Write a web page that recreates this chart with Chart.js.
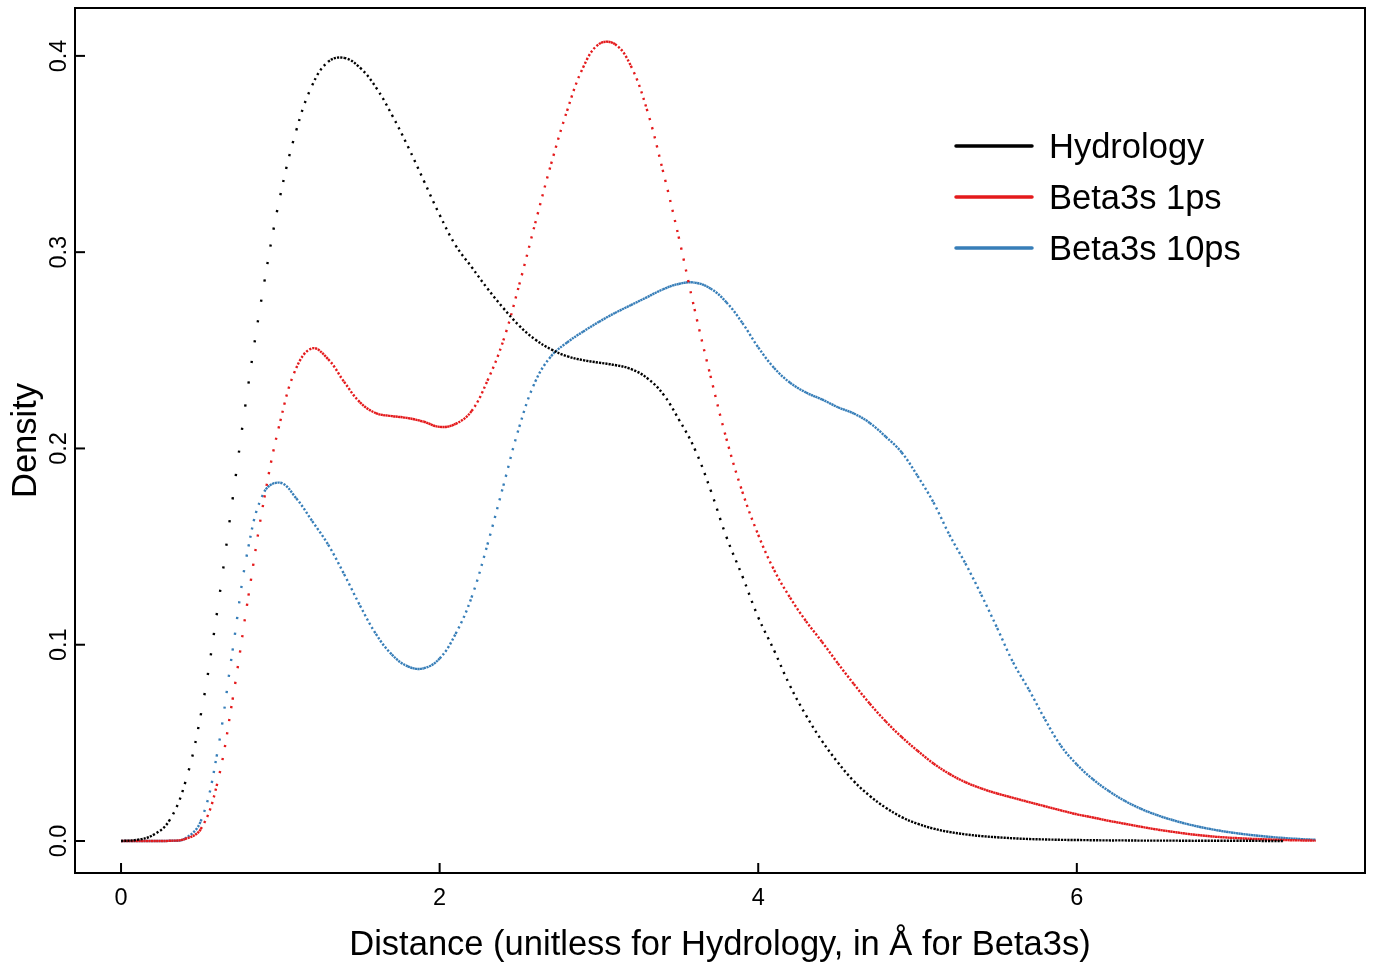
<!DOCTYPE html>
<html>
<head>
<meta charset="utf-8">
<script src="https://cdn.jsdelivr.net/npm/chart.js@4.4.0/dist/chart.umd.min.js"></script>
<style>
  html, body { margin: 0; padding: 0; background: #fff; }
  #wrap { width: 1373px; height: 963px; }
</style>
</head>
<body>
<div id="wrap"><canvas id="densityChart" width="1373" height="963"></canvas></div>
<script>
// kernel density estimates, x step 0.1
const distance = [
  0.0, 0.1, 0.2, 0.3, 0.4, 0.5, 0.6, 0.7, 0.8, 0.9,
  1.0, 1.1, 1.2, 1.3, 1.4, 1.5, 1.6, 1.7, 1.8, 1.9,
  2.0, 2.1, 2.2, 2.3, 2.4, 2.5, 2.6, 2.7, 2.8, 2.9,
  3.0, 3.1, 3.2, 3.3, 3.4, 3.5, 3.6, 3.7, 3.8, 3.9,
  4.0, 4.1, 4.2, 4.3, 4.4, 4.5, 4.6, 4.7, 4.8, 4.9,
  5.0, 5.1, 5.2, 5.3, 5.4, 5.5, 5.6, 5.7, 5.8, 5.9,
  6.0, 6.1, 6.2, 6.3, 6.4, 6.5, 6.6, 6.7, 6.8, 6.9,
  7.0, 7.1, 7.2, 7.3, 7.4, 7.5
];

// Hydrology stops at 7.3
const hydrology = [
  0.0000, 0.0006, 0.0030, 0.0100, 0.0290, 0.0640, 0.1150, 0.1740, 0.2330, 0.2850,
  0.3290, 0.3620, 0.3850, 0.3970, 0.3990, 0.3940, 0.3840, 0.3700, 0.3540, 0.3365,
  0.3190, 0.3035, 0.2925, 0.2815, 0.2715, 0.2625, 0.2555, 0.2505, 0.2470, 0.2450,
  0.2437, 0.2425, 0.2405, 0.2360, 0.2280, 0.2150, 0.2000, 0.1790, 0.1550, 0.1350,
  0.1140, 0.0970, 0.0790, 0.0640, 0.0510, 0.0400, 0.0305, 0.0230, 0.0170, 0.0122,
  0.0088, 0.0063, 0.0046, 0.0034, 0.0025, 0.0019, 0.0014, 0.0010, 0.0008, 0.0006,
  0.0005, 0.0004, 0.0003, 0.0003, 0.0002, 0.0002, 0.0002, 0.0001, 0.0001, 0.0001,
  0.0001, 0.0001, 0.0000, 0.0000
];

const beta1ps = [
  0.0000, 0.0000, 0.0000, 0.0001, 0.0010, 0.0060, 0.0280, 0.0720, 0.1250, 0.1750,
  0.2140, 0.2410, 0.2510, 0.2455, 0.2340, 0.2235, 0.2180, 0.2165, 0.2155, 0.2136,
  0.2110, 0.2125, 0.2190, 0.2345, 0.2550, 0.2835, 0.3147, 0.3450, 0.3720, 0.3940,
  0.4060, 0.4060, 0.3950, 0.3730, 0.3420, 0.3080, 0.2710, 0.2370, 0.2050, 0.1780,
  0.1560, 0.1380, 0.1240, 0.1120, 0.1015, 0.0905, 0.0800, 0.0700, 0.0610, 0.0530,
  0.0460, 0.0395, 0.0342, 0.0300, 0.0268, 0.0242, 0.0220, 0.0198, 0.0177, 0.0156,
  0.0136, 0.0120, 0.0103, 0.0088, 0.0073, 0.0059, 0.0047, 0.0036, 0.0027, 0.0020,
  0.0015, 0.0011, 0.0008, 0.0005, 0.0003, 0.0002
];

const beta10ps = [
  0.0000, 0.0000, 0.0000, 0.0001, 0.0012, 0.0100, 0.0430, 0.0970, 0.1500, 0.1780,
  0.1825, 0.1746, 0.1630, 0.1510, 0.1360, 0.1200, 0.1055, 0.0950, 0.0890, 0.0880,
  0.0930, 0.1055, 0.1240, 0.1510, 0.1810, 0.2110, 0.2340, 0.2470, 0.2540, 0.2595,
  0.2645, 0.2690, 0.2730, 0.2770, 0.2810, 0.2838, 0.2845, 0.2815, 0.2745, 0.2640,
  0.2515, 0.2410, 0.2335, 0.2285, 0.2250, 0.2210, 0.2178, 0.2130, 0.2060, 0.1980,
  0.1860, 0.1725, 0.1560, 0.1415, 0.1255, 0.1085, 0.0910, 0.0770, 0.0620, 0.0485,
  0.0390, 0.0315, 0.0255, 0.0205, 0.0165, 0.0133, 0.0107, 0.0085, 0.0067, 0.0052,
  0.0040, 0.0030, 0.0022, 0.0015, 0.0010, 0.0006
];

const seriesNames = ['Hydrology', 'Beta3s 1ps', 'Beta3s 10ps'];
const seriesColors = ['#000000', '#E41A1C', '#377EB8'];
const xTicks = [0, 2, 4, 6];
const yTicks = [0.0, 0.1, 0.2, 0.3, 0.4];

const FONT = '"Liberation Sans", Arial, Helvetica, sans-serif';

function toPoints(values) {
    return values.map((v, i) => ({ x: distance[i], y: v }));
}

// R draws the density as one dot per grid step along x;
// stretch the dash period on steep segments so dots stay evenly spaced in x
function dotted(stepPx) {
    return ctx => {
        const dx = Math.abs(ctx.p1.x - ctx.p0.x);
        const dy = ctx.p1.y - ctx.p0.y;
        const len = Math.hypot(dx, dy);
        const period = dx > 0 ? stepPx * len / dx : stepPx;
        return [2.2, Math.max(period - 2.2, 0.3)];
    };
}

const rAxes = {
    id: 'rAxes',
    afterDraw(chart) {
        const { ctx, chartArea: a, scales: { x, y } } = chart;
        ctx.save();
        ctx.strokeStyle = '#000';
        ctx.fillStyle = '#000';
        ctx.lineWidth = 2;
        ctx.strokeRect(a.left, a.top, a.right - a.left, a.bottom - a.top);

        ctx.font = '23.5px ' + FONT;
        ctx.textAlign = 'center';
        ctx.textBaseline = 'alphabetic';
        xTicks.forEach(v => {
            const px = x.getPixelForValue(v);
            ctx.beginPath();
            ctx.moveTo(px, a.bottom);
            ctx.lineTo(px, a.bottom - 10);
            ctx.stroke();
            ctx.fillText(String(v), px, 905);
        });
        yTicks.forEach(v => {
            const py = y.getPixelForValue(v);
            ctx.beginPath();
            ctx.moveTo(a.left, py);
            ctx.lineTo(a.left + 10, py);
            ctx.stroke();
            ctx.save();
            ctx.translate(66, py);
            ctx.rotate(-Math.PI / 2);
            ctx.fillText(v.toFixed(1), 0, 0);
            ctx.restore();
        });

        // axis titles
        ctx.font = '34.5px ' + FONT;
        ctx.fillText('Distance (unitless for Hydrology, in Å for Beta3s)', (a.left + a.right) / 2, 955);
        ctx.save();
        ctx.translate(36, (a.top + a.bottom) / 2);
        ctx.rotate(-Math.PI / 2);
        ctx.fillText('Density', 0, 0);
        ctx.restore();

        // legend, top right, no frame
        ctx.textAlign = 'left';
        chart.data.datasets.forEach((ds, i) => {
            const ly = 146 + i * 51;
            ctx.strokeStyle = ds.borderColor;
            ctx.lineWidth = 3.5;
            ctx.lineCap = 'round';
            ctx.beginPath();
            ctx.moveTo(956, ly);
            ctx.lineTo(1032, ly);
            ctx.stroke();
            ctx.fillText(ds.label, 1049, ly + 12);
        });
        ctx.restore();
    }
};

const datasets = [hydrology, beta1ps, beta10ps].map((vals, i) => ({
    label: seriesNames[i],
    data: toPoints(vals),
    borderColor: seriesColors[i],
    backgroundColor: seriesColors[i],
    borderWidth: 2.4,
    borderCapStyle: 'butt',
    pointRadius: 0,
    fill: false,
    tension: 0.4,
    segment: { borderDash: dotted(i === 0 ? 3.2 : 2.4) }
}));

new Chart(document.getElementById('densityChart'), {
    type: 'line',
    data: { datasets: datasets },
    options: {
        responsive: false,
        animation: false,
        devicePixelRatio: 1,
        layout: { padding: { left: 75, top: 8, right: 8, bottom: 90 } },
        scales: {
            x: { type: 'linear', display: false, min: -0.289, max: 7.809 },
            y: { type: 'linear', display: false, min: -0.0163, max: 0.4244 }
        },
        plugins: {
            legend: { display: false },
            tooltip: { enabled: false }
        }
    },
    plugins: [rAxes]
});
</script>
</body>
</html>
